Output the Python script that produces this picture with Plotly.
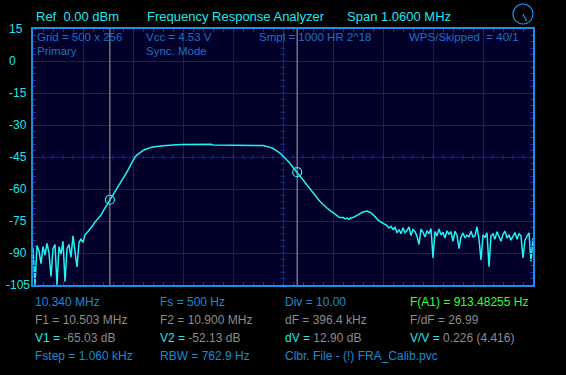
import numpy as np
import plotly.graph_objects as go

# ---- data ----
f_start = 10.340   # MHz
f_span = 1.060     # MHz
n_pts = 251
freq = np.linspace(f_start, f_start + f_span, n_pts)

level_db = [
    -87.5, -105, -86.5, -89, -95, -87, -91, -85.5, -90, -101,
    -88, -86, -105, -87, -90.5, -84.5, -103.5, -88, -86, -92,
    -82, -89, -96.5, -85, -83.5, -85, -81.5, -80.5, -79.5, -78,
    -77, -75.5, -74.5, -73.3, -72.2, -70.5, -69, -67.5, -65.8, -64.2,
    -62.8, -61.5, -60, -58.5, -56.8, -55, -53.5, -52, -50.2, -48.3,
    -46.4, -45, -44, -43.2, -42.5, -42, -41.5, -41.1, -40.8, -40.5,
    -40.3, -40.1, -40, -39.9, -39.8, -39.7, -39.6, -39.5, -39.4, -39.4,
    -39.3, -39.3, -39.2, -39.2, -39.1, -39.1, -39.1, -39.0, -39.0, -39.0,
    -39.0, -39.0, -39.0, -39.0, -39.0, -39.0, -39.0, -39.0, -39.0, -39.0,
    -39.4, -39.4, -39.4, -39.4, -39.4, -39.4, -39.4, -39.4, -39.4, -39.4,
    -39.4, -39.4, -39.4, -39.4, -39.4, -39.4, -39.4, -39.4, -39.4, -39.4,
    -39.4, -39.4, -39.4, -39.4, -39.5, -39.6, -39.8, -40.0, -40.3, -40.6,
    -41.0, -41.5, -42.1, -42.8, -43.6, -44.5, -45.5, -46.5, -47.5, -48.6,
    -49.8, -51.0, -52.2, -53.4, -54.6, -55.8, -57.0, -58.3, -59.6, -60.9,
    -62.1, -63.3, -64.3, -65.3, -66.3, -67.3, -68.1, -68.9, -69.7, -70.4,
    -71.3, -71.9, -72.6, -73.2, -73.5, -73.3, -74.0, -73.6, -74.2, -73.5,
    -73.4, -72.8, -72.3, -71.6, -71.2, -70.8, -70.5, -70.3, -70.8, -71.2,
    -72.0, -72.8, -74.0, -75.0, -75.6, -76.0, -76.8, -77.2, -78.3, -77.5,
    -79.0, -78.0, -80.5, -79.0, -81.0, -78.2, -80.5, -79.5, -77.8, -81.8,
    -79.0, -80.0, -82.2, -86.0, -78.8, -80.3, -82.5, -79.5, -81.0, -78.5,
    -92.3, -80.0, -82.0, -78.7, -81.5, -80.3, -83.0, -79.6, -81.2, -80.0,
    -84.5, -79.8, -81.8, -88.0, -82.5, -80.6, -83.0, -81.6, -82.4, -79.8,
    -82.5, -82.0, -77.7, -83.5, -93.3, -81.5, -82.8, -80.5, -96.4, -82.0,
    -81.0, -83.5, -80.0, -82.5, -84.5, -81.2, -79.8, -83.0, -81.5, -84.0,
    -82.2, -80.4, -83.5, -81.0, -82.0, -92.3, -84.0, -82.5, -80.5, -94.0,
    -83.0,
]

cursor_f = [10.503, 10.900]     # F1, F2 (MHz)
cursor_v = [-65.03, -52.13]     # V1, V2 (dB)

y_min, y_max, y_step = -105, 15, 15
y_tick_vals = list(range(y_max, y_min - 1, -y_step))

# ---- colours ----
BG = "#000000"
PLOT_BG = "#00002a"
GRID = "#0c1c8c"
BORDER = "#1c8ee6"
TRACE = "#22f2f2"
CYAN = "#1fe6ee"
DIMBLUE = "#1f70c0"
BLUE = "#1a8ad6"
GRAY = "#8c8c8c"
GREEN = "#33ff33"
FONT = "Liberation Sans"

W, H = 566, 375
L, R, T, B = 33, 533, 29, 285


def px(x):
    return (x - L) / (R - L)


def py(y):
    return (B - y) / (B - T)


fig = go.Figure()

# centre-cross minor ticks
x_lo, x_hi = f_start, f_start + f_span
xc = (x_lo + x_hi) / 2
yc = (y_min + y_max) / 2
dx_minor = f_span / 50
dy_minor = (y_max - y_min) / 40
tx, ty = [], []
for k in range(51):
    xv = x_lo + k * dx_minor
    tx += [xv, xv, None]
    ty += [yc - 0.9, yc + 0.9, None]
for k in range(41):
    yv = y_min + k * dy_minor
    tx += [xc - 0.0045, xc + 0.0045, None]
    ty += [yv, yv, None]
fig.add_trace(go.Scatter(x=tx, y=ty, mode="lines",
                         line=dict(color="#1a2fb0", width=1),
                         hoverinfo="skip"))

fig.add_trace(go.Scatter(x=freq, y=level_db, mode="lines",
                         line=dict(color=TRACE, width=1.5),
                         hoverinfo="skip"))

fig.add_trace(go.Scatter(x=cursor_f, y=cursor_v, mode="markers",
                         marker=dict(symbol="circle-open", size=9,
                                     color=TRACE, line=dict(width=1.2)),
                         hoverinfo="skip"))

for fc in cursor_f:
    fig.add_shape(type="line", x0=fc, x1=fc, y0=0, y1=1, yref="paper",
                  line=dict(color="#a8a8a8", width=1))

# knob icon
fig.add_shape(type="circle", xref="paper", yref="paper",
              x0=px(513), x1=px(533), y0=py(24), y1=py(4),
              line=dict(color=BORDER, width=1.2))
fig.add_shape(type="line", xref="paper", yref="paper",
              x0=px(523), x1=px(526.5), y0=py(14), y1=py(21),
              line=dict(color=BORDER, width=1.2))

ann = []


def txt(x, y, s, color, size=12):
    ann.append(dict(x=px(x), y=py(y), xref="paper", yref="paper", text=s,
                    showarrow=False, xanchor="left", yanchor="middle",
                    font=dict(family=FONT, size=size, color=color)))


def sp(s, c):
    return f"<span style='color:{c}'>{s}</span>"


NB = "\u00a0"
# header
txt(34, 16, f"Ref {NB}0.00 dBm", CYAN, 13)
txt(145, 16, "Frequency Response Analyzer", CYAN, 13)
txt(345, 16, "Span 1.0600 MHz", CYAN, 13)

# in-plot info
txt(35, 37, "Grid = 500 x 256", DIMBLUE, 11.5)
txt(35, 51, "Primary", DIMBLUE, 11.5)
txt(144, 37, "Vcc = 4.53 V", DIMBLUE, 11.5)
txt(144, 51, "Sync. Mode", DIMBLUE, 11.5)
txt(257, 37, "Smpl = 1000 HR 2^18", DIMBLUE, 11.5)
txt(407, 37, f"WPS/Skipped {NB}= 40/1", DIMBLUE, 11.5)

# y labels
for v in y_tick_vals:
    ypix = T + (y_max - v) / (y_max - y_min) * (B - T)
    txt(4 if v <= -100 else 7, ypix, str(v), CYAN, 12)

# bottom readouts
rows = [302, 320, 338, 356]
cols = [33, 158, 283, 408]
txt(cols[0], rows[0], "10.340 MHz", BLUE)
txt(cols[1], rows[0], "Fs = 500 Hz", BLUE)
txt(cols[2], rows[0], "Div = 10.00", BLUE)
txt(cols[3], rows[0], "F(A1) = 913.48255 Hz", GREEN)
txt(cols[0], rows[1], "F1 = 10.503 MHz", GRAY)
txt(cols[1], rows[1], "F2 = 10.900 MHz", GRAY)
txt(cols[2], rows[1], "dF = 396.4 kHz", GRAY)
txt(cols[3], rows[1], "F/dF = 26.99", GRAY)
txt(cols[0], rows[2], sp("V1 = ", CYAN) + sp("-65.03 dB", GRAY), GRAY)
txt(cols[1], rows[2], sp("V2 = ", CYAN) + sp("-52.13 dB", GRAY), GRAY)
txt(cols[2], rows[2], sp("dV = ", CYAN) + sp("12.90 dB", GRAY), GRAY)
txt(cols[3], rows[2], sp("V/V = ", CYAN) + sp("0.226 (4.416)", GRAY), GRAY)
txt(cols[0], rows[3], "Fstep = 1.060 kHz", BLUE)
txt(cols[1], rows[3], "RBW = 762.9 Hz", BLUE)
txt(cols[2], rows[3], "Clbr. File - (!) FRA_Calib.pvc", BLUE)

fig.update_layout(
    width=W, height=H, autosize=False,
    margin=dict(l=L, r=W - R, t=T, b=H - B, pad=0),
    paper_bgcolor=BG, plot_bgcolor=PLOT_BG,
    showlegend=False,
    annotations=ann,
    xaxis=dict(range=[x_lo, x_hi], tick0=x_lo, dtick=f_span / 10,
               showgrid=True, gridcolor=GRID, gridwidth=1,
               zeroline=False, showticklabels=False,
               showline=True, linecolor=BORDER, linewidth=2, mirror="ticks",
               ticks="inside", ticklen=3, tickcolor="#1a2fb0",
               minor=dict(tick0=x_lo, dtick=dx_minor, ticks="inside",
                          ticklen=3, tickcolor="#1a2fb0", showgrid=False)),
    yaxis=dict(range=[y_min, y_max], tick0=y_min, dtick=y_step,
               showgrid=True, gridcolor=GRID, gridwidth=1,
               zeroline=False, showticklabels=False,
               showline=True, linecolor=BORDER, linewidth=2, mirror="ticks",
               ticks="inside", ticklen=3, tickcolor="#1a2fb0",
               minor=dict(tick0=y_min, dtick=dy_minor, ticks="inside",
                          ticklen=3, tickcolor="#1a2fb0", showgrid=False)),
)

fig.write_html(
    "out.html",
    config={"displayModeBar": False},
    post_script="document.body.style.margin='0';"
                "document.body.style.background='#000';",
)
